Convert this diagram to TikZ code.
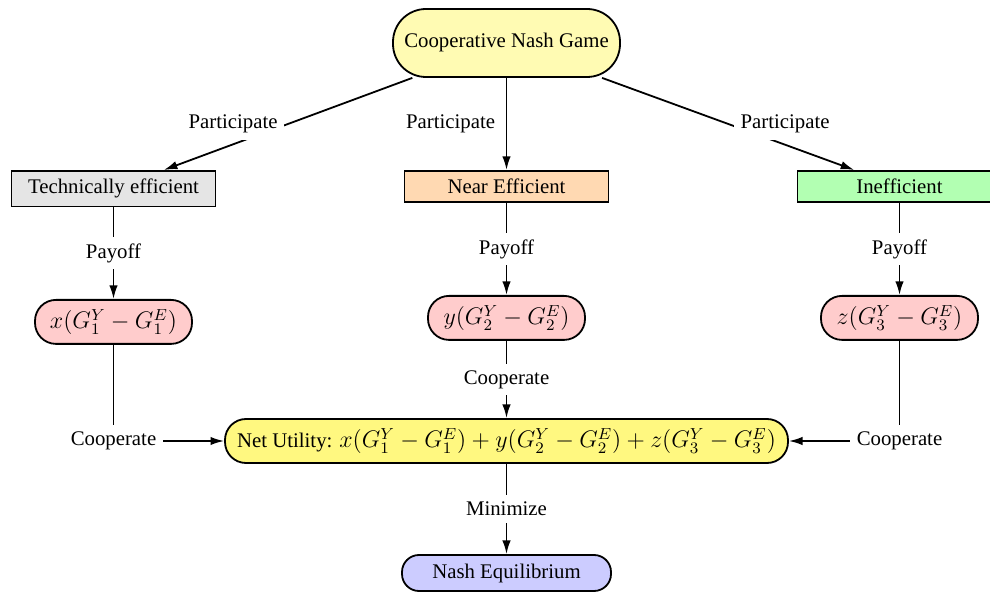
\documentclass[tikz,border=0pt]{standalone}
\usepackage[no-math]{fontspec}
\IfFontExistsTF{LiberationSerif-Regular.ttf}{%
  \setmainfont{LiberationSerif}[Extension=.ttf, UprightFont=*-Regular, BoldFont=*-Bold, ItalicFont=*-Italic, BoldItalicFont=*-BoldItalic]}{%
  \setmainfont{Liberation Serif}}
\usetikzlibrary{arrows.meta}
\newcommand{\bigmath}[1]{{\fontsize{11.5}{13.5}\selectfont$#1$}}
\begin{document}
\begin{tikzpicture}[x=0.5pt,y=-0.5pt,
  font=\fontsize{10.4}{12.2}\selectfont,
  box/.style={draw, line width=0.9pt, rectangle, minimum width=102pt, inner ysep=4.1pt, anchor=north},
  pill/.style={draw, line width=0.9pt, rounded corners=10.5pt, minimum height=22pt, minimum width=78.5pt, anchor=north},
  arr/.style={line width=0.9pt, -{Latex[length=6.8pt,width=4.2pt]}},
  lab/.style={fill=white, inner sep=3.3pt},
]
\useasboundingbox (0,0) rectangle (990,592);
\node[draw, line width=0.9pt, fill=yellow!30, rounded corners=16.5pt, minimum width=113.5pt, minimum height=34pt] (game) at (506.5,43) {Cooperative Nash Game};
\node[box, fill=gray!20] (tech) at (113.5,170) {Technically efficient};
\node[box, fill=orange!30] (near) at (506.5,170) {Near Efficient};
\node[box, fill=green!30] (ineff) at (899.5,170) {Inefficient};
\node[pill, fill=red!20] (px) at (113.5,299) {\bigmath{x(G_1^Y - G_1^E)}};
\node[pill, fill=red!20] (py) at (506.5,295) {\bigmath{y(G_2^Y - G_2^E)}};
\node[pill, fill=red!20] (pz) at (899.5,295) {\bigmath{z(G_3^Y - G_3^E)}};
\node[draw, line width=0.9pt, fill=yellow!50, rounded corners=10.5pt, minimum height=22pt, minimum width=281.5pt] (net) at (506.5,441) {Net Utility: \bigmath{x(G_1^Y - G_1^E)+y(G_2^Y - G_2^E)+z(G_3^Y - G_3^E)}};
\node[draw, line width=0.9pt, fill=blue!20, rounded corners=8.5pt, minimum width=104.5pt, minimum height=18pt] (nash) at (506.5,573) {Nash Equilibrium};
\draw[arr] (game) -- node[lab, midway, left=1.5pt]{Participate} (tech);
\draw[arr] (game) -- node[lab, midway, left=2pt]{Participate} (near);
\draw[arr] (game) -- node[lab, midway, right=2.5pt]{Participate} (ineff);
\draw[arr] (tech) -- node[lab]{Payoff} (px);
\draw[arr] (near) -- node[lab]{Payoff} (py);
\draw[arr] (ineff) -- node[lab]{Payoff} (pz);
\draw[arr] (px) |- node[lab]{Cooperate} (net);
\draw[arr] (pz) |- node[lab]{Cooperate} (net);
\draw[arr] (py) -- node[lab]{Cooperate} (net);
\draw[arr] (net) -- node[lab]{Minimize} (nash);
\end{tikzpicture}
\end{document}
